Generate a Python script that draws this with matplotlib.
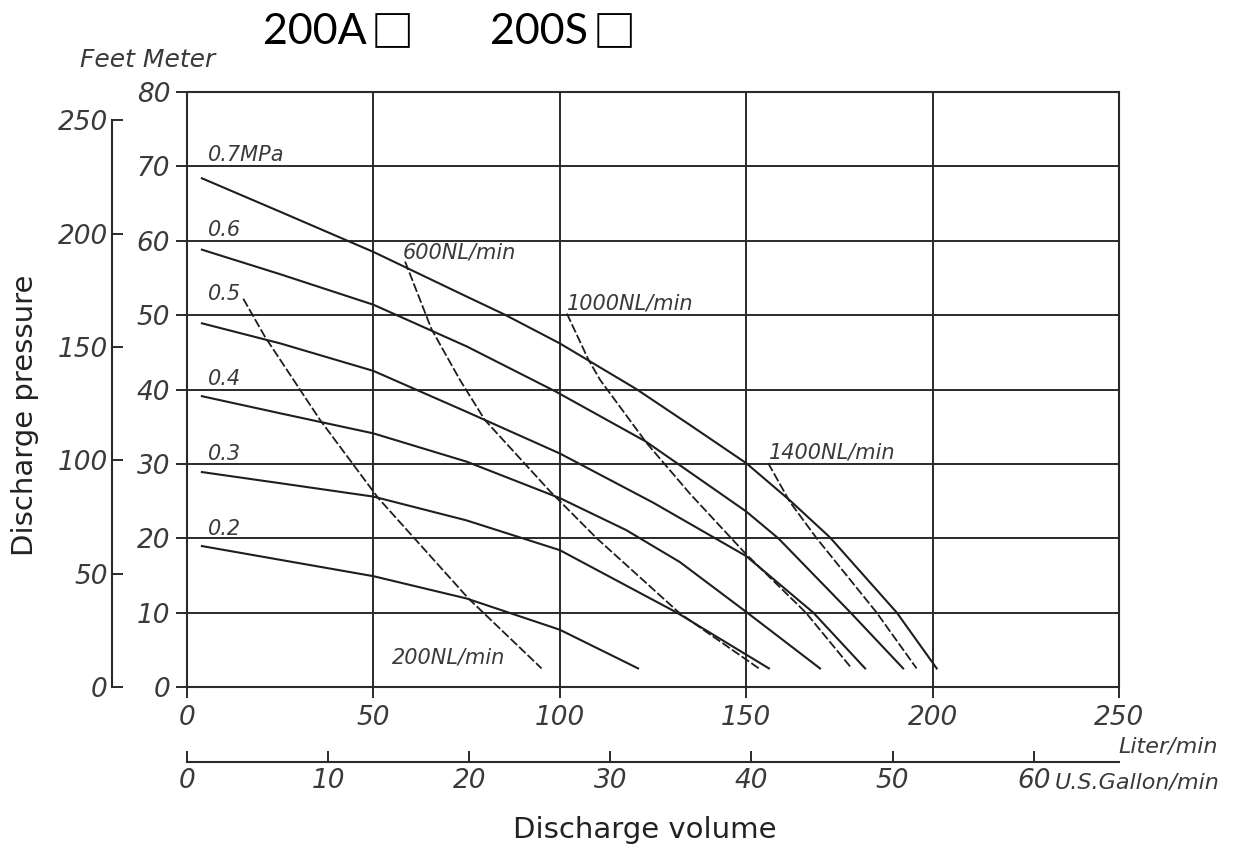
import matplotlib
matplotlib.use("Agg")
import matplotlib.pyplot as plt

# pressure curves (L/min vs m head)
flow_07 = [4, 25, 50, 75, 85.1, 100, 120.4, 135, 150, 161.7, 172.5, 190.4, 201.1]
head_07 = [68.4, 63.9, 58.5, 52.5, 50.1, 46.2, 40.1, 35.2, 30.1, 25.1, 20.1, 10.0, 2.5]
flow_06 = [4, 25, 50, 75, 99, 123.1, 150, 158.6, 178, 192.1]
head_06 = [58.8, 55.5, 51.4, 45.8, 39.7, 33.0, 23.6, 20.0, 10.0, 2.5]
flow_05 = [4, 25, 50, 75, 100, 125, 150, 168, 181.9]
head_05 = [48.9, 46.2, 42.5, 37.0, 31.4, 24.8, 17.6, 10.0, 2.5]
flow_04 = [4, 25, 50, 75, 100, 117.8, 132.2, 150, 169.8]
head_04 = [39.1, 36.8, 34.1, 30.3, 25.4, 21.1, 16.8, 10.1, 2.5]
flow_03 = [4, 25, 50, 75, 100, 131.4, 156.1]
head_03 = [28.9, 27.4, 25.6, 22.4, 18.4, 10.0, 2.5]
flow_02 = [4, 25, 50, 75, 100, 121]
head_02 = [18.95, 17.1, 14.9, 11.9, 7.7, 2.5]

# air consumption lines (dashed)
nl200_flow = [15.1, 20.9, 35.7, 51.3, 75.5, 95.1]
nl200_head = [52.2, 47.1, 35.9, 25.4, 11.9, 2.5]
nl600_flow = [58.5, 65.6, 73.2, 79.9, 97.4, 109.9, 132.2, 153.4]
nl600_head = [57.2, 48.1, 41.3, 35.9, 26.3, 20.0, 9.9, 2.5]
nl1000_flow = [101.9, 107.7, 110.8, 123.3, 134.9, 149.7, 166, 178.3]
nl1000_head = [50.2, 44.0, 41.3, 32.8, 26.0, 18.0, 10.0, 2.5]
nl1400_flow = [155.9, 161.7, 168.9, 185, 195.7]
nl1400_head = [30.1, 24.9, 20.0, 10.0, 2.5]

pressure_labels = ["0.7MPa", "0.6", "0.5", "0.4", "0.3", "0.2"]
label_heads = [70.7, 60.6, 52.0, 40.6, 30.5, 20.4]
nl_labels = ["200NL/min", "600NL/min", "1000NL/min", "1400NL/min"]
nl_label_pos = [(54.9, 3.2), (57.9, 57.6), (102, 50.7), (156.2, 30.7)]

x_ticks = [0, 50, 100, 150, 200, 250]
y_ticks = [0, 10, 20, 30, 40, 50, 60, 70, 80]
ft_ticks = [0, 50, 100, 150, 200, 250]
gal_ticks = [0, 10, 20, 30, 40, 50, 60]

models = ["200A", "200S"]

LINE = "#1e1e1e"
TXT = "#3a3a3a"
W, H = 1234, 852

fig = plt.figure(figsize=(W / 100, H / 100), dpi=100)
rect = [187 / W, 1 - 687 / H, 932 / W, 595 / H]
ax = fig.add_axes(rect)

solid = [(flow_07, head_07), (flow_06, head_06), (flow_05, head_05),
         (flow_04, head_04), (flow_03, head_03), (flow_02, head_02)]
for fx, hy in solid:
    ax.plot(fx, hy, color=LINE, lw=1.5, zorder=3)

dashed = [(nl200_flow, nl200_head), (nl600_flow, nl600_head),
          (nl1000_flow, nl1000_head), (nl1400_flow, nl1400_head)]
for fx, hy in dashed:
    ax.plot(fx, hy, color=LINE, lw=1.3, ls=(0, (5, 1.5)), zorder=3)

for lab, yy in zip(pressure_labels, label_heads):
    ax.text(5.6, yy, lab, fontsize=15, style="italic", color=TXT, va="baseline", ha="left")
for lab, (xx, yy) in zip(nl_labels, nl_label_pos):
    ax.text(xx, yy, lab, fontsize=15, style="italic", color=TXT, va="baseline", ha="left")

ax.set_xlim(0, 250)
ax.set_ylim(0, 80)
ax.set_xticks(x_ticks)
ax.set_yticks(y_ticks)
ax.grid(True, color="#2a2a2a", lw=1.4)
for s in ax.spines.values():
    s.set_linewidth(1.5)
    s.set_color("#2a2a2a")
ax.tick_params(direction="out", length=8, width=1.4, color="#2a2a2a",
               labelsize=19, labelcolor=TXT)
ax.tick_params(axis="y", pad=4)
ax.tick_params(axis="x", pad=5)
for t in ax.get_xticklabels() + ax.get_yticklabels():
    t.set_style("italic")

# feet axis on the far left
ax_ft = fig.add_axes(rect, label="feet")
ax_ft.patch.set_visible(False)
ax_ft.set_ylim(0, 80 / 0.3048)
ax_ft.set_xticks([])
for k in ["top", "right", "bottom"]:
    ax_ft.spines[k].set_visible(False)
ax_ft.spines["left"].set_position(("axes", -75 / 932))
ax_ft.spines["left"].set_bounds(0, 250)
ax_ft.spines["left"].set_linewidth(1.5)
ax_ft.spines["left"].set_color("#2a2a2a")
ax_ft.set_yticks(ft_ticks)
ax_ft.tick_params(axis="y", direction="in", length=8, width=1.4, color="#2a2a2a",
                  labelsize=19, labelcolor=TXT, pad=3)
for t in ax_ft.get_yticklabels():
    t.set_style("italic")

# US gallon axis below
gal = ax.secondary_xaxis(-75 / 595, functions=(lambda q: q / 3.785, lambda g: g * 3.785))
gal.set_xticks(gal_ticks)
gal.spines["bottom"].set_linewidth(1.5)
gal.spines["bottom"].set_color("#2a2a2a")
gal.tick_params(direction="in", length=8, width=1.4, color="#2a2a2a",
                labelsize=19, labelcolor=TXT, pad=4)
for t in gal.get_xticklabels():
    t.set_style("italic")

fig.text(1118 / W, 1 - 746 / H, "Liter/min", fontsize=16, style="italic", color=TXT,
         ha="left", va="center")
fig.text(1055 / W, 1 - 782 / H, "U.S.Gallon/min", fontsize=16, style="italic", color=TXT,
         ha="left", va="center")
fig.text(80 / W, 1 - 60 / H, "Feet Meter", fontsize=18, style="italic", color=TXT,
         ha="left", va="center")

fig.text(25 / W, 1 - 415 / H, "Discharge pressure", fontsize=21, color="#222222",
         rotation=90, ha="center", va="center")
fig.text(645 / W, 1 - 830 / H, "Discharge volume", fontsize=21, color="#222222",
         ha="center", va="center")

# model names with the empty box after each
for name, x0, xb in zip(models, [263, 490], [371, 593]):
    fig.text(x0 / W, 1 - 32 / H, name, fontsize=31, color="black",
             family="Lato", ha="left", va="center")
    fig.text(xb / W, 1 - 34 / H, "\u25a1", fontsize=31, color="black",
             family="Noto Sans CJK JP", weight="bold", ha="left", va="center")

fig.savefig("out.png", dpi=100)
